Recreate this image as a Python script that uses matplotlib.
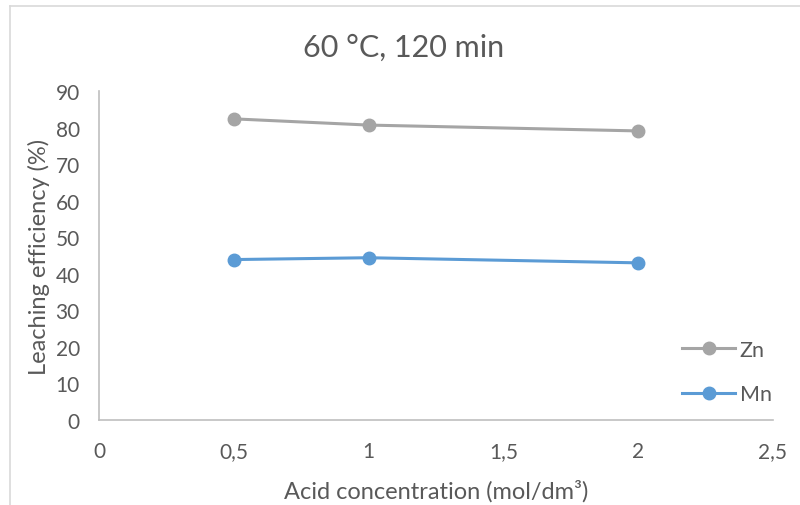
import matplotlib.pyplot as plt
from matplotlib.lines import Line2D
from matplotlib.ticker import FuncFormatter

# data
conc = [0.5, 1, 2]
zn = [82.4, 80.7, 79.1]
mn = [43.9, 44.4, 43.0]

plt.rcParams['font.family'] = ['Lato', 'DejaVu Sans']
txt = '#595959'

fig = plt.figure(figsize=(8, 5.06), dpi=100)
ax = fig.add_axes([0.124, 0.168, 0.842, 0.650])

ax.plot(conc, zn, color='#A5A5A5', lw=2.2, marker='o', ms=9, label='Zn')
ax.plot(conc, mn, color='#5B9BD5', lw=2.2, marker='o', ms=9, label='Mn')

ax.set_xlim(0, 2.5)
ax.set_ylim(0, 90)
ax.set_xticks([0, 0.5, 1, 1.5, 2, 2.5])
ax.set_yticks(range(0, 91, 10))
ax.xaxis.set_major_formatter(FuncFormatter(lambda v, p: f'{v:g}'.replace('.', ',')))
ax.tick_params(length=0, labelsize=15, colors=txt)
ax.tick_params(axis='x', pad=15)
ax.tick_params(axis='y', pad=14)

for s in ['top', 'right']:
    ax.spines[s].set_visible(False)
for s in ['left', 'bottom']:
    ax.spines[s].set_color('#BFBFBF')
    ax.spines[s].set_linewidth(1.2)

ax.set_xlabel('Acid concentration (mol/dm³)', fontsize=17, color=txt, labelpad=13)
ax.set_ylabel('Leaching efficiency (%)', fontsize=17, color=txt, labelpad=4)
fig.text(0.505, 0.905, '60 °C, 120 min', ha='center', va='center', fontsize=22, color=txt)

fig.legend(loc='center left', bbox_to_anchor=(0.852, 0.263), frameon=False,
           fontsize=15.5, labelcolor=txt, handlelength=2.5, handletextpad=0.2,
           labelspacing=1.15, borderpad=0, borderaxespad=0)

# chart border (only top/left visible in the crop)
fig.add_artist(Line2D([0.0125, 0.0125], [0, 0.986], transform=fig.transFigure, color='#D9D9D9', lw=1.2))
fig.add_artist(Line2D([0.0125, 1], [0.986, 0.986], transform=fig.transFigure, color='#D9D9D9', lw=1.2))

fig.savefig('out.png', dpi=100)
